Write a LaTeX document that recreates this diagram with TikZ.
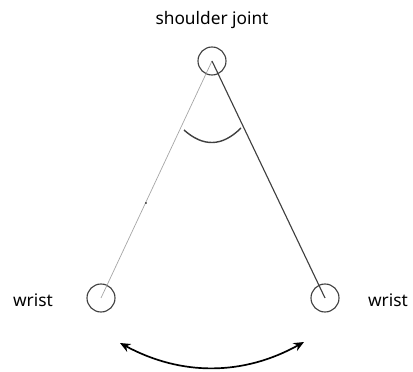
\documentclass[tikz,border=0pt]{standalone}
\usepackage{fontspec}
\setmainfont{Noto Sans}
\usetikzlibrary{arrows.meta}
\tikzset{
  joint/.style={circle, draw=black!75, line width=0.8pt,
                minimum size=0.7cm, inner sep=0pt, fill=none},
  lab/.style={font=\fontsize{12.3}{14}\selectfont, text=black},
  armfixed/.style={black!75, line width=0.8pt},
  armghost/.style={black!35, line width=0.5pt},
  swing/.style={{Stealth[length=2.6mm,width=2.2mm]}-{Stealth[length=2.6mm,width=2.2mm]},
                line width=1.2pt, black},
}
\begin{document}
\begin{tikzpicture}[x=0.025cm,y=-0.025cm]
  \path[use as bounding box] (0,0) rectangle (413,372);

  % joints
  \node[joint] (shoulder) at (212,61) {};
  \node[joint] (wristL) at (101,298) {};
  \node[joint] (wristR) at (325,298) {};

  % arms
  \draw[armghost] (shoulder.center) -- (wristL.center);
  \draw[armfixed] (shoulder.center) -- (wristR.center);
  \fill[black] (146,203) circle (0.9);

  % labels
  \node[lab] (shoulderlab) at (212,20) {shoulder joint};
  \node[lab] (wristLlab) at (33,300) {wrist};
  \node[lab] (wristRlab) at (388,300) {wrist};

  % angle and swing
  \coordinate (angA) at (184,130);
  \coordinate (angB) at (241,128);
  \draw[armfixed, line width=1pt] (angA) .. controls (203,147) and (222,147) .. (angB);
  \coordinate (swA) at (120,343);
  \coordinate (swB) at (304,342);
  \draw[swing] (swA) .. controls (181,376) and (243,376) .. (swB);
\end{tikzpicture}
\end{document}
